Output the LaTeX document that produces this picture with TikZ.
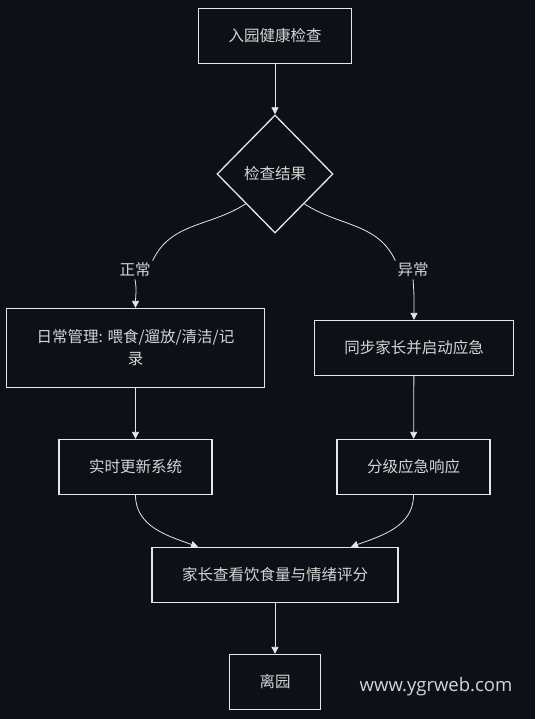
\documentclass[tikz,border=0pt]{standalone}
\usepackage{fontspec}
\newfontfamily\cjk{Noto Sans CJK SC}
\newfontfamily\wmfont{Open Sans}
\usetikzlibrary{shapes.geometric,arrows.meta}

\definecolor{bg}{HTML}{0D1117}
\definecolor{ink}{HTML}{E6E6E6}
\definecolor{txt}{HTML}{D4D4D4}

\begin{document}
\begin{tikzpicture}[x=1pt, y=-1pt,
    every node/.style={font=\cjk\fontsize{15.5}{22}\selectfont, text=txt},
    box/.style={draw=ink, line width=1.3pt, fill=bg, minimum height=55pt, inner xsep=30pt, inner ysep=0pt},
    check/.style={diamond, draw=ink, line width=1.3pt, fill=bg, inner sep=0pt, minimum width=116pt, minimum height=118pt},
    lbl/.style={fill=bg, inner sep=2pt},
    flow/.style={draw=ink, line width=0.8pt, -{Triangle[length=7pt,width=7pt]}},
    line/.style={draw=ink, line width=0.8pt}]
    \fill[bg] (0,0) rectangle (535,719);
    \useasboundingbox (0,0) rectangle (535,719);

    \node[box] (in) at (275,36) {入园健康检查};
    \node[check] (chk) at (275,174) {检查结果};
    \node[lbl] (okl) at (135,270) {正常};
    \node[lbl] (badl) at (413,270) {异常};
    \node[box, minimum height=79pt, align=center] (daily) at (135.5,348) {日常管理: 喂食/遛放/清洁/记\\录};
    \node[box] (sync) at (414,348) {同步家长并启动应急};
    \node[box] (upd) at (135.5,467) {实时更新系统};
    \node[box] (lvl) at (413.5,467) {分级应急响应};
    \node[box] (fam) at (275,575) {家长查看饮食量与情绪评分};
    \node[box] (out) at (275,682) {离园};
    \node[font=\wmfont\fontsize{18.5}{22}\selectfont, text=txt] (wm) at (436,687) {www.ygrweb.com};

    \path[flow] (in) -- (chk);
    \path[line] (chk.south west) to[out=213,in=65] (okl.north east);
    \path[flow] (okl.south) to[out=-80,in=90] (daily.north);
    \path[line] (chk.south east) to[out=-33,in=115] (badl.north west);
    \path[flow] (badl.south) to[out=-85,in=90] (sync.north);
    \path[flow] (daily) -- (upd);
    \path[flow] (sync) -- (lvl);
    \path[flow] (upd.south) to[out=-90,in=160] ([xshift=-77pt]fam.north);
    \path[flow] (lvl.south) to[out=-90,in=20] ([xshift=76pt]fam.north);
    \path[flow] (fam) -- (out);
\end{tikzpicture}
\end{document}
